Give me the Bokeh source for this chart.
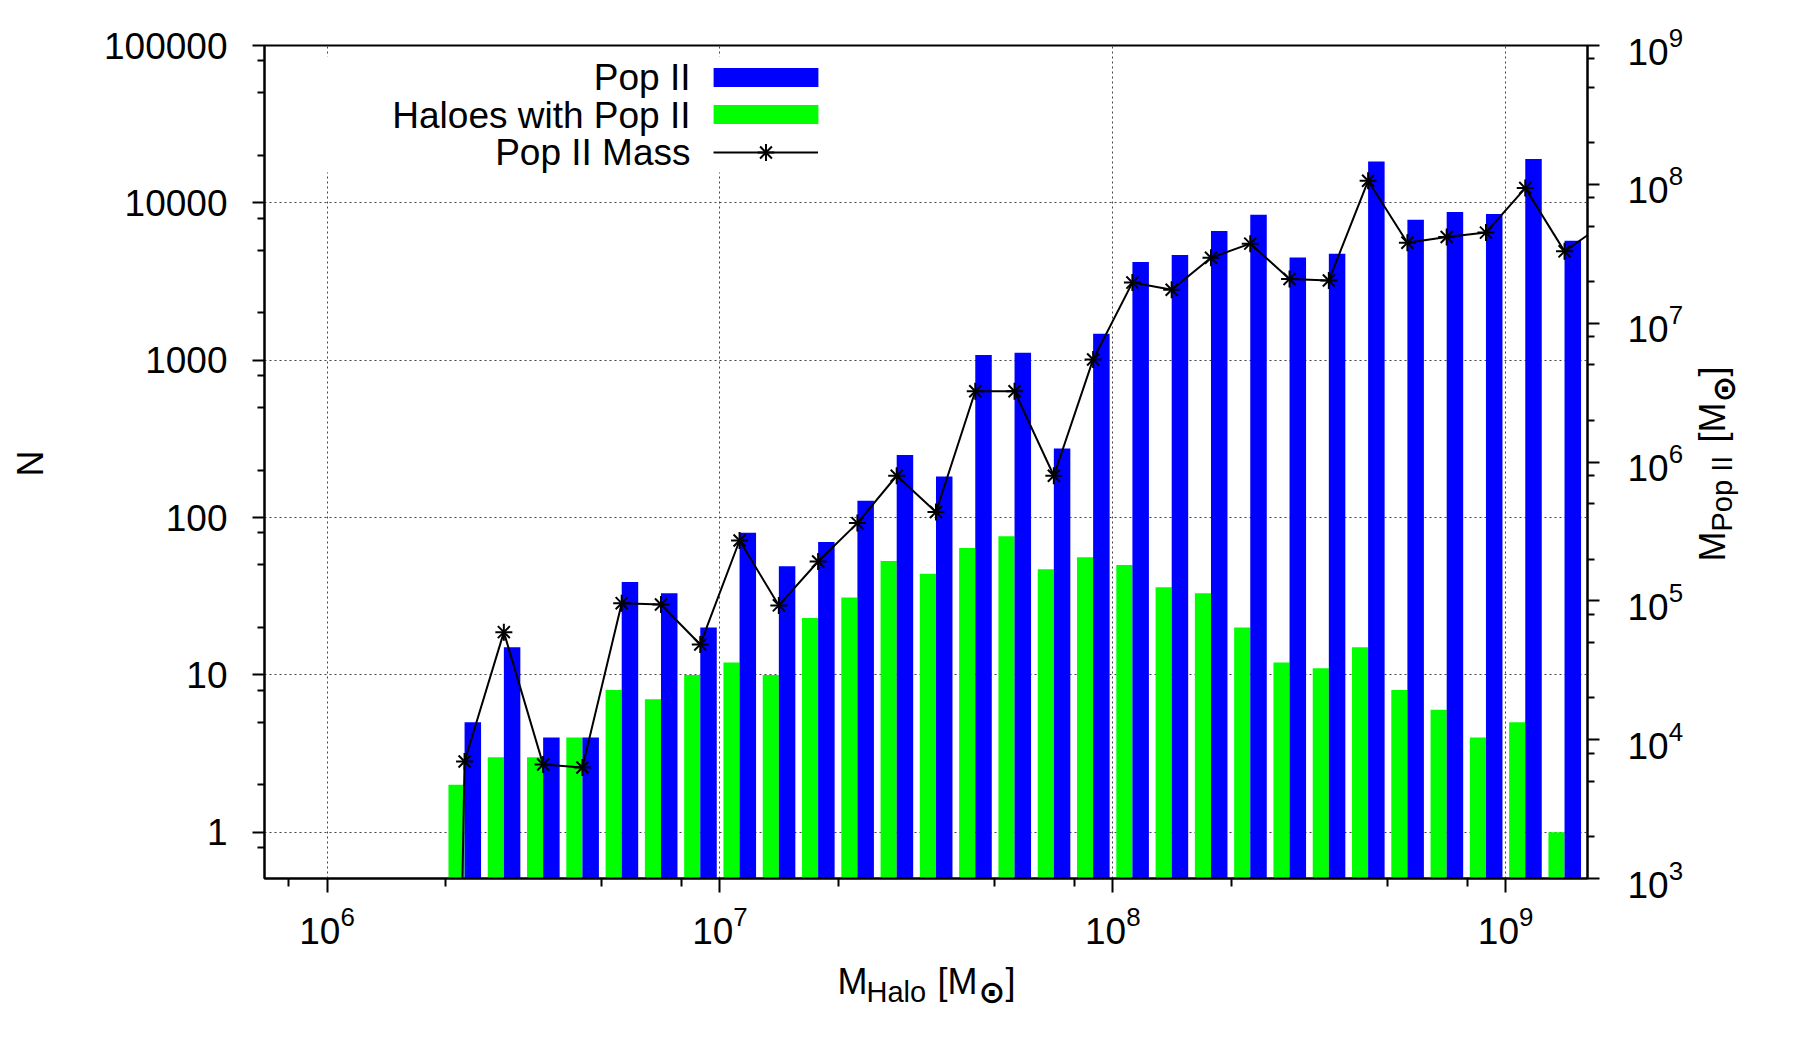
import numpy as np
from bokeh.plotting import figure
from bokeh.layouts import row, column
from bokeh.models import (Range1d, LogAxis, LogScale, FixedTicker, NumeralTickFormatter,
                          Legend, LegendItem, Label, BoxAnnotation, ColumnDataSource)
from bokeh.embed import file_html
from bokeh.resources import INLINE

# ---------------- data ----------------
# log10 of the bin-centre halo mass [M_sun]
bin_log_mass = [6.35, 6.45, 6.55, 6.65, 6.75, 6.85, 6.95, 7.05, 7.15, 7.25,
                7.35, 7.45, 7.55, 7.65, 7.75, 7.85, 7.95, 8.05, 8.15, 8.25,
                8.35, 8.45, 8.55, 8.65, 8.75, 8.85, 8.95, 9.05, 9.15, 9.25]
# number of Pop II objects per bin (blue)
pop2_counts = [5, 15, 4, 4, 39, 33, 20, 80, 49, 70,
               128, 250, 182, 1080, 1115, 275, 1470, 4200, 4660, 6620,
               8410, 4490, 4750, 18300, 7820, 8740, 8480, 19000, 5740, 5000]
# number of haloes hosting Pop II per bin (green)
haloes_with_pop2 = [2, 3, 3, 4, 8, 7, 10, 12, 10, 23,
                    31, 53, 44, 64, 76, 47, 56, 50, 36, 33,
                    20, 12, 11, 15, 8, 6, 4, 5, 1, 1]
# total Pop II mass per bin [M_sun]; first bin lies far below the axis
mass_log_bins = [6.25] + bin_log_mass
pop2_mass = [1e-12, 6970, 59500, 6620, 6310, 96200, 94200, 48500, 272000, 92700, 192000,
             363000, 796000, 436000, 3.23e6, 3.23e6, 7.96e5, 5.48e6, 1.96e7, 1.74e7, 2.96e7,
             3.74e7, 2.08e7, 2.03e7, 1.06e8, 3.80e7, 4.17e7, 4.49e7, 9.4e7, 3.29e7, 5.2e7]

x_ticks = [1e6, 1e7, 1e8, 1e9]
x_minor = [8e5, 2e6, 5e6, 8e6, 2e7, 5e7, 8e7, 2e8, 5e8, 8e8]
n_ticks = [1, 10, 100, 1000, 10000, 100000]
n_minor = [0.8, 2, 5, 8, 20, 50, 80, 200, 500, 800, 2000, 5000, 8000, 20000, 50000, 80000]
mass_ticks = [1e3, 1e4, 1e5, 1e6, 1e7, 1e8, 1e9]
mass_minor = [m * f for m in [1e3, 1e4, 1e5, 1e6, 1e7, 1e8] for f in (2, 5, 8)]

legend_labels = ["Pop II", "Haloes with Pop II", "Pop II Mass"]

FONT = "Liberation Sans"
BLUE = "#0000ff"
GREEN = "#00ff00"

LEFT_W, MAIN_W, RIGHT_W = 60, 1626, 74
MAIN_H, BOTTOM_H = 958, 72
FRAME_BOTTOM = 878   # page y of the plot frame bottom

# ---------------- main figure ----------------
p = figure(width=MAIN_W, height=MAIN_H, x_axis_type="log", y_axis_type="log",
           x_range=Range1d(6.93e5, 1.616e9), y_range=Range1d(0.508, 1e5),
           output_backend="svg", toolbar_location=None,
           min_border_left=264 - LEFT_W, min_border_right=LEFT_W + MAIN_W - 1589,
           min_border_top=45, min_border_bottom=MAIN_H - FRAME_BOTTOM)
p.extra_y_ranges = {"mass": Range1d(1e3, 1e9)}
p.extra_y_scales = {"mass": LogScale()}
p.outline_line_color = "black"
p.outline_line_width = 2
p.background_fill_color = "white"
p.border_fill_color = "white"

centers = 10 ** np.array(bin_log_mass)
half_g = 10 ** 0.041
half_b = 10 ** 0.042

src_g = ColumnDataSource(dict(left=centers / half_g, right=centers,
                              top=haloes_with_pop2, bottom=[0.01] * len(centers)))
src_b = ColumnDataSource(dict(left=centers, right=centers * half_b,
                              top=pop2_counts, bottom=[0.01] * len(centers)))
r_green = p.quad(left="left", right="right", top="top", bottom="bottom", source=src_g,
                 fill_color=GREEN, line_color=None)
r_blue = p.quad(left="left", right="right", top="top", bottom="bottom", source=src_b,
                fill_color=BLUE, line_color=None)

mx = 10 ** np.array(mass_log_bins)
r_line = p.line(mx, pop2_mass, y_range_name="mass", line_color="black", line_width=2)
r_cross = p.scatter(mx[1:], pop2_mass[1:], y_range_name="mass", marker="cross",
                    size=17, line_color="black", line_width=2)
r_x = p.scatter(mx[1:], pop2_mass[1:], y_range_name="mass", marker="x",
                size=17, line_color="black", line_width=2)

# ---------------- axes ----------------
xax = p.xaxis[0]
yax = p.yaxis[0]
xax.ticker = FixedTicker(ticks=x_ticks, minor_ticks=x_minor)
yax.ticker = FixedTicker(ticks=n_ticks, minor_ticks=n_minor)
yax.formatter = NumeralTickFormatter(format="0")

rax = LogAxis(y_range_name="mass", ticker=FixedTicker(ticks=mass_ticks, minor_ticks=mass_minor))
p.add_layout(rax, "right")

for ax in (xax, yax, rax):
    ax.axis_line_color = "black"
    ax.axis_line_width = 2
    ax.major_tick_line_color = "black"
    ax.minor_tick_line_color = "black"
    ax.major_tick_line_width = 2
    ax.minor_tick_line_width = 2
    ax.major_tick_in = 0
    ax.minor_tick_in = 0
    ax.major_tick_out = 12
    ax.minor_tick_out = 7
    ax.major_label_text_font = FONT
    ax.major_label_text_font_size = "37px"
    ax.major_label_text_color = "black"
xax.major_tick_out = 14
xax.minor_tick_out = 8
xax.major_label_standoff = 13
yax.major_label_standoff = 25
rax.major_label_standoff = 28

for g in (p.xgrid[0], p.ygrid[0]):
    g.grid_line_color = "#444444"
    g.grid_line_width = 1
    g.grid_line_dash = "2 3"

# ---------------- legend ----------------
p.add_layout(BoxAnnotation(left=40, right=565, bottom=706, top=822,
                           left_units="screen", right_units="screen",
                           bottom_units="screen", top_units="screen",
                           fill_color="white", fill_alpha=1.0, line_color=None))

leg_bars = Legend(items=[LegendItem(label=" ", renderers=[r_blue]),
                         LegendItem(label=" ", renderers=[r_green])],
                  location=(436, 752), glyph_width=131, glyph_height=24, spacing=13,
                  padding=0, margin=0, label_width=0, label_height=0, label_standoff=0,
                  label_text_font_size="1px", border_line_color=None,
                  background_fill_alpha=0)
leg_line = Legend(items=[LegendItem(label=" ", renderers=[r_line, r_cross, r_x])],
                  location=(449, 705), glyph_width=105, glyph_height=42, spacing=0,
                  padding=0, margin=0, label_width=0, label_height=0, label_standoff=0,
                  label_text_font_size="1px", border_line_color=None,
                  background_fill_alpha=0)
p.add_layout(leg_bars)
p.add_layout(leg_line)


def lab(fig, text, x, y, size, angle=0.0, align="left", baseline="alphabetic",
        font=FONT, style="normal"):
    fig.add_layout(Label(x=x, y=y, x_units="screen", y_units="screen", text=text,
                         text_font=font, text_font_size=f"{size}px", text_align=align,
                         text_font_style=style, text_baseline=baseline, angle=angle,
                         text_color="black"))


for txt, yb in zip(legend_labels, (801, 763, 726)):
    lab(p, txt, 426, yb, 37, align="right")


# ---------------- label panels (axis titles with subscripts) ----------------
def blank(w, h):
    f = figure(width=w, height=h, output_backend="svg", toolbar_location=None,
               x_axis_location=None, y_axis_location=None,
               min_border=0, min_border_left=0, min_border_right=0,
               min_border_top=0, min_border_bottom=0,
               x_range=Range1d(0, 1), y_range=Range1d(0, 1))
    f.outline_line_color = None
    f.xgrid.visible = False
    f.ygrid.visible = False
    f.background_fill_color = "white"
    f.border_fill_color = "white"
    return f


# side panels share the main frame's vertical extent -> y measured up from the frame bottom
left_fig = blank(LEFT_W, MAIN_H)
lab(left_fig, "N", 30, FRAME_BOTTOM - 463, 36, angle=np.pi / 2, align="center",
    baseline="middle")

right_fig = blank(RIGHT_W, MAIN_H)
rot = np.pi / 2
lab(right_fig, "M", 26, FRAME_BOTTOM - 561, 36, angle=rot)
lab(right_fig, "Pop II", 35, FRAME_BOTTOM - 531, 29, angle=rot)
lab(right_fig, "[M", 26, FRAME_BOTTOM - 442, 36, angle=rot)
lab(right_fig, "\u2299", 37, FRAME_BOTTOM - 402, 32, angle=rot, font="DejaVu Sans",
    style="bold")
lab(right_fig, "]", 26, FRAME_BOTTOM - 376, 36, angle=rot)

bottom_fig = blank(LEFT_W + MAIN_W + RIGHT_W, BOTTOM_H)


def by(page_y):
    return BOTTOM_H - (page_y - MAIN_H) + 14


lab(bottom_fig, "M", 837, by(995), 36)
lab(bottom_fig, "Halo", 866, by(1005), 29)
lab(bottom_fig, "[M", 937, by(995), 36)
lab(bottom_fig, "\u2299", 978, by(1005), 32, font="DejaVu Sans", style="bold")
lab(bottom_fig, "]", 1005, by(995), 36)

layout = column(row(left_fig, p, right_fig, spacing=0), bottom_fig, spacing=0)

open("out.html", "w").write(file_html(layout, INLINE))
